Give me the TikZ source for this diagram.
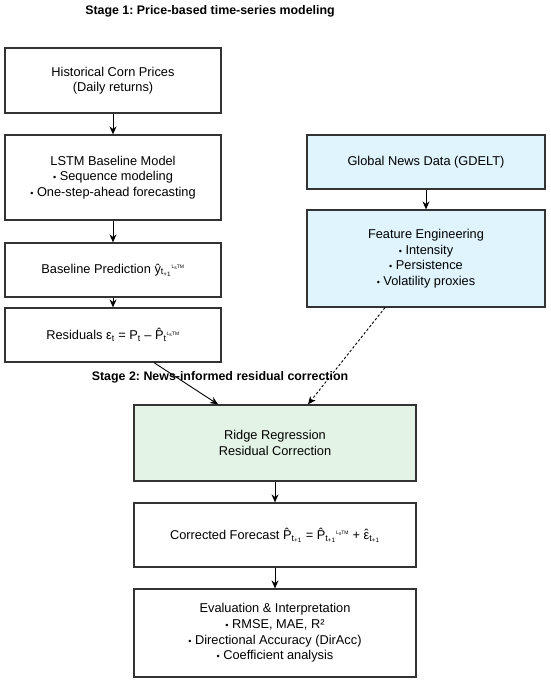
\documentclass[tikz,border=0pt]{standalone}
\usepackage{fontspec}
\setmainfont{Liberation Sans}
\usetikzlibrary{arrows.meta,calc}
\frenchspacing
\definecolor{boxline}{HTML}{333333}
\definecolor{newsfill}{HTML}{DFF4FC}
\definecolor{ridgefill}{HTML}{E3F4E7}
\newcommand{\lstmsup}{\textsuperscript{\fontsize{5}{5}\selectfont L\raisebox{-0.25ex}{s}TM}}
\newcommand{\tpo}{\textsubscript{t\textsubscript{+1}}}
\newcommand{\bul}{{\fontsize{9}{9}\selectfont •}\ }
\newcommand{\epshat}{\setbox0\hbox{ε}\rlap{\hbox to\wd0{\hss\raisebox{0.05ex}{ˆ}\hss}}ε}
\begin{document}
\begin{tikzpicture}[x=1pt,y=-1pt,
  box/.style={draw=boxline,line width=1.25pt,fill=white,align=center,inner sep=2pt,
    font=\fontsize{12.8}{15.6}\selectfont},
  lbox/.style={box,minimum width=216pt},
  rbox/.style={box,minimum width=238pt,fill=newsfill},
  cbox/.style={box,minimum width=282pt},
  stagetitle/.style={font=\fontsize{12.4}{14}\selectfont\bfseries},
  arr/.style={-{Stealth[length=8pt,width=7pt]},line width=0.9pt,black},
  darr/.style={arr,dash pattern=on 2.5pt off 2pt}]
\useasboundingbox (0,0) rectangle (550,692);

\node[stagetitle] (t1) at (210,11) {Stage 1: Price-based time-series modeling};
\node[stagetitle] (t2) at (220,377) {Stage 2: News-informed residual correction};

\node[lbox,minimum height=65pt] (hist) at (113,80.5) {Historical Corn Prices\\(Daily returns)};
\node[lbox,minimum height=85pt] (lstm) at (113,177.5) {LSTM Baseline Model\\\bul Sequence modeling\\\bul One-step-ahead forecasting};
\node[lbox,minimum height=54pt] (base) at (113,270) {Baseline Prediction ŷ\tpo\lstmsup};
\node[lbox,minimum height=54pt] (resid) at (113,335) {Residuals ε\textsubscript{t} = P\textsubscript{t} – \^{P}\textsubscript{t}\lstmsup};

\node[rbox,minimum height=54pt] (news) at (426,162) {Global News Data (GDELT)};
\node[rbox,minimum height=97pt] (feat) at (426,258.5) {Feature Engineering\\\bul Intensity\\\bul Persistence\\\bul Volatility proxies};

\node[cbox,minimum height=76pt,fill=ridgefill] (ridge) at (275,443) {Ridge Regression\\Residual Correction};
\node[cbox,minimum height=64pt] (corr) at (275,535) {Corrected Forecast \^{P}\tpo{} = \^{P}\tpo\lstmsup{} + \epshat\tpo};
\node[cbox,minimum height=88pt] (eval) at (275,633) {Evaluation \& Interpretation\\\bul RMSE, MAE, R²\\\bul Directional Accuracy (DirAcc)\\\bul Coefficient analysis};

\draw[arr] (hist) -- (lstm);
\draw[arr] (lstm) -- (base);
\draw[arr] (base) -- (resid);
\draw[arr] (news) -- (feat);
\draw[arr] ([xshift=41pt]resid.south) -- ([xshift=-57pt]ridge.north);
\draw[darr] ([xshift=-41pt]feat.south) -- ([xshift=33pt]ridge.north);
\draw[arr] (ridge) -- (corr);
\draw[arr] (corr) -- (eval);
\end{tikzpicture}
\end{document}
